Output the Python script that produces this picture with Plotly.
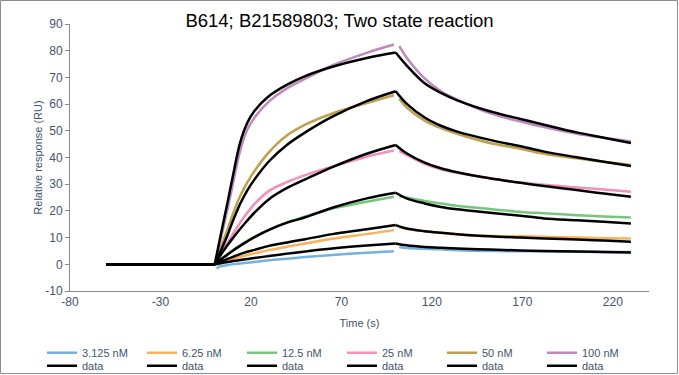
import plotly.graph_objects as go

# ---------------- data ----------------
conc_labels = ["3.125 nM", "6.25 nM", "12.5 nM", "25 nM", "50 nM", "100 nM"]
fit_label = "data"
series_colors = ["#5DA5DA", "#FAA43A", "#60BD68", "#F17CB0", "#B2912F", "#B276B2"]
fit_color = "#000000"

t_baseline = [-60, -30, 0]
baseline_values = [0, 0, 0]

# measured response (coloured)
t_assoc_data = [1, 3, 7, 10, 14, 18, 22, 30, 40, 50, 65, 84, 99]
t_dissoc_data = [102, 106, 116, 125, 134, 152, 169, 182, 200, 215, 230]

assoc_data_3125 = [-1.6, -0.8, -0.3, 0.0, 0.3, 0.6, 0.9, 1.5, 2.1, 2.7, 3.5, 4.3, 4.9]
assoc_data_625 = [-0.4, 0.3, 1.3, 2.0, 2.8, 3.5, 4.1, 5.3, 6.6, 7.8, 9.6, 11.3, 12.8]
assoc_data_125 = [0.5, 1.7, 3.8, 5.3, 7.1, 8.8, 10.3, 13.0, 15.8, 17.9, 20.9, 23.4, 25.3]
assoc_data_25 = [1.2, 3.5, 8.0, 11.3, 15.5, 19.3, 22.6, 27.5, 30.8, 33.4, 36.6, 40.3, 42.6]
assoc_data_50 = [1.8, 5.5, 13.0, 18.8, 25.5, 30.7, 35.0, 42.0, 48.3, 52.3, 56.5, 60.4, 63.3]
assoc_data_100 = [2.8, 8.5, 20.5, 30.0, 42.5, 50.5, 55.0, 61.0, 66.0, 69.5, 74.5, 79.2, 82.3]

dissoc_data_3125 = [6.5, 6.1, 5.8, 5.6, 5.3, 5.0, 4.9, 4.8, 4.7, 4.6, 4.6]
dissoc_data_625 = [13.8, 13.3, 12.4, 11.8, 11.3, 10.6, 10.5, 10.3, 10.0, 9.8, 9.7]
dissoc_data_125 = [25.6, 25.0, 23.7, 22.8, 21.9, 20.7, 19.6, 19.1, 18.4, 17.9, 17.5]
dissoc_data_25 = [42.5, 41.0, 37.6, 35.6, 34.3, 32.2, 30.6, 29.8, 28.8, 28.0, 27.2]
dissoc_data_50 = [62.0, 58.8, 53.8, 51.0, 48.9, 45.4, 43.3, 41.4, 39.7, 38.4, 37.2]
dissoc_data_100 = [81.7, 77.5, 69.6, 64.8, 61.7, 56.6, 53.5, 51.4, 48.9, 47.4, 46.0]

# fitted two-state model (black)
t_assoc_fit = [0, 3, 7, 10, 14, 18, 22, 30, 40, 50, 65, 84, 100]
t_dissoc_fit = [100, 106, 116, 125, 134, 152, 169, 182, 200, 215, 230]

assoc_fit_3125 = [0, 0.4, 0.9, 1.2, 1.6, 2.0, 2.4, 3.1, 4.0, 4.8, 5.9, 7.0, 7.8]
assoc_fit_625 = [0, 0.9, 2.0, 2.8, 3.8, 4.7, 5.4, 6.9, 8.2, 9.4, 11.3, 13.1, 14.7]
assoc_fit_125 = [0, 1.6, 3.6, 5.1, 6.9, 8.6, 10.2, 12.9, 15.6, 17.6, 21.2, 24.7, 26.8]
assoc_fit_25 = [0, 3.2, 7.1, 9.8, 13.2, 16.4, 19.4, 24.4, 28.6, 31.8, 36.4, 41.4, 44.7]
assoc_fit_50 = [0, 4.6, 10.8, 16.2, 22.6, 27.7, 31.8, 38.6, 44.8, 49.4, 55.3, 61.1, 64.8]
assoc_fit_100 = [0, 10.0, 23.0, 33.0, 45.5, 53.0, 57.5, 63.0, 67.3, 70.5, 74.0, 77.3, 79.3]

dissoc_fit_3125 = [7.8, 7.1, 6.5, 6.2, 5.9, 5.5, 5.2, 5.0, 4.8, 4.6, 4.4]
dissoc_fit_625 = [14.7, 13.4, 12.4, 11.8, 11.3, 10.5, 10.0, 9.7, 9.3, 8.9, 8.4]
dissoc_fit_125 = [26.8, 24.7, 22.8, 21.5, 20.6, 19.3, 18.2, 17.2, 16.5, 15.9, 15.3]
dissoc_fit_25 = [44.7, 41.6, 38.1, 36.0, 34.5, 32.2, 30.5, 29.3, 27.8, 26.5, 25.3]
dissoc_fit_50 = [64.8, 60.2, 55.0, 51.9, 49.7, 46.6, 44.2, 42.2, 40.1, 38.4, 36.8]
dissoc_fit_100 = [79.3, 74.5, 67.8, 64.2, 61.4, 57.3, 54.4, 52.3, 49.4, 47.4, 45.4]

x_ticks = [-80, -30, 20, 70, 120, 170, 220]
x_tick_labels = ["-80", "-30", "20", "70", "120", "170", "220"]
y_ticks = [-10, 0, 10, 20, 30, 40, 50, 60, 70, 80, 90]
y_tick_labels = ["-10", "0", "10", "20", "30", "40", "50", "60", "70", "80", "90"]

assoc_data = [assoc_data_3125, assoc_data_625, assoc_data_125, assoc_data_25, assoc_data_50, assoc_data_100]
dissoc_data = [dissoc_data_3125, dissoc_data_625, dissoc_data_125, dissoc_data_25, dissoc_data_50, dissoc_data_100]
assoc_fit = [assoc_fit_3125, assoc_fit_625, assoc_fit_125, assoc_fit_25, assoc_fit_50, assoc_fit_100]
dissoc_fit = [dissoc_fit_3125, dissoc_fit_625, dissoc_fit_125, dissoc_fit_25, dissoc_fit_50, dissoc_fit_100]

# ---------------- figure ----------------
W, H = 679, 375
ML, MR, MT, MB = 70, 30, 24, 84
PW, PH = W - ML - MR, H - MT - MB


def px_x(px):
    return (px - ML) / PW


def px_y(py):
    return (H - MB - py) / PH


TEXT = "#44546A"
FONT = "Liberation Sans, Arial, sans-serif"

fig = go.Figure()

# measured data (coloured) first
for i, name in enumerate(conc_labels):
    c = series_colors[i]
    common = dict(mode="lines", opacity=0.85, legendgroup="d" + str(i), legend="legend",
                  hoverinfo="skip")
    fig.add_trace(go.Scatter(x=t_assoc_data, y=assoc_data[i], name=name, showlegend=True,
                             line=dict(color=c, width=2.5, shape="spline"), **common))
    fig.add_trace(go.Scatter(x=t_baseline, y=baseline_values, name=name, showlegend=False,
                             line=dict(color=c, width=2.5), **common))
    fig.add_trace(go.Scatter(x=t_dissoc_data, y=dissoc_data[i], name=name, showlegend=False,
                             line=dict(color=c, width=2.5, shape="spline"), **common))

# fitted curves (black) on top
for i, name in enumerate(conc_labels):
    common = dict(mode="lines", legendgroup="f" + str(i), legend="legend2", hoverinfo="skip")
    fig.add_trace(go.Scatter(x=t_assoc_fit, y=assoc_fit[i], name=fit_label, showlegend=True,
                             line=dict(color=fit_color, width=2.5, shape="spline"), **common))
    fig.add_trace(go.Scatter(x=t_baseline, y=baseline_values, name=fit_label, showlegend=False,
                             line=dict(color=fit_color, width=2.5), **common))
    fig.add_trace(go.Scatter(x=t_dissoc_fit, y=dissoc_fit[i], name=fit_label, showlegend=False,
                             line=dict(color=fit_color, width=2.5, shape="spline"), **common))

legend_common = dict(orientation="h", xanchor="left", yanchor="middle",
                     entrywidth=55, entrywidthmode="pixels",
                     font=dict(family=FONT, size=11, color=TEXT),
                     bgcolor="rgba(0,0,0,0)", borderwidth=0, tracegroupgap=0)

fig.update_layout(
    width=W, height=H,
    margin=dict(l=ML, r=MR, t=MT, b=MB, autoexpand=False),
    paper_bgcolor="white", plot_bgcolor="white",
    font=dict(family=FONT, size=11, color=TEXT),
    title=dict(text="B614; B21589803; Two state reaction", x=0.5, xref="container",
               xanchor="center", y=1 - 21 / H, yref="container", yanchor="middle",
               font=dict(family=FONT, size=18.5, color="#000000")),
    xaxis=dict(range=[-80, 240], tickvals=x_ticks, ticktext=x_tick_labels,
               showgrid=False, zeroline=False,
               showline=True, linecolor="#898989", linewidth=1, ticks="",
               tickfont=dict(family=FONT, size=12, color=TEXT),
               title=dict(text="Time (s)", standoff=10,
                          font=dict(family=FONT, size=11, color=TEXT))),
    yaxis=dict(range=[-10, 90], tickvals=y_ticks, ticktext=y_tick_labels,
               showgrid=False, zeroline=False,
               showline=True, linecolor="#898989", linewidth=1, ticks="outside",
               ticklen=4, tickcolor="#898989",
               tickfont=dict(family=FONT, size=12, color=TEXT),
               title=dict(text="Relative response (RU)", standoff=0,
                          font=dict(family=FONT, size=11, color=TEXT))),
    legend=dict(x=px_x(42), y=px_y(352.7), **legend_common),
    legend2=dict(x=px_x(42), y=px_y(365.7), **legend_common),
    showlegend=True,
    shapes=[dict(type="rect", xref="paper", yref="paper",
                 x0=px_x(0.5), x1=px_x(677.5), y0=px_y(373.5), y1=px_y(0.5),
                 line=dict(color="#8c8c8c", width=1), fillcolor="rgba(0,0,0,0)",
                 layer="above")],
)

fig.write_html(
    "out.html",
    config={"displayModeBar": False},
    post_script="document.body.style.margin='0';document.body.style.overflow='hidden';",
)
